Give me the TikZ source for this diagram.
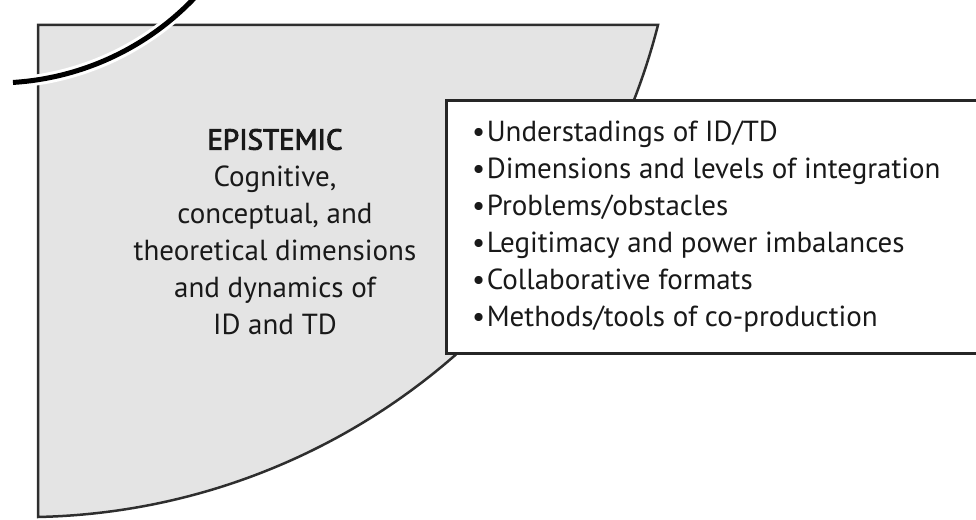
\documentclass[tikz,border=0pt]{standalone}
\usepackage{fontspec}
\setmainfont{PT Sans}
\usepackage{xcolor}
\definecolor{epigray}{HTML}{E4E4E4}
\definecolor{edgegray}{HTML}{2E2E2E}

\begin{document}
\begin{tikzpicture}[x=1pt,y=1pt,
    every node/.style={font=\fontsize{29}{37}\selectfont, inner sep=0pt, text=black!90},
    segment/.style={fill=epigray, draw=edgegray, line width=2.5pt},
    listbox/.style={fill=white, draw=black!85, line width=3pt, anchor=south west,
                    minimum width=560pt, minimum height=253pt},
    listitem/.style={anchor=base west}]
    \useasboundingbox (0,0) rectangle (976,519);
    \clip (0,0) rectangle (976,519);
    % grauer Sektor
    \draw[segment] (38,2) -- (38,494) -- (658,494)
        arc[start angle=-14.33, end angle=-88.77, radius=654] -- cycle;
    % Bogen oben links, mit weissem Rand
    \draw[white, line width=11pt] (-4,710) ++(-86.45:274) arc[start angle=-86.45, end angle=-40, radius=274];
    \draw[black, line width=5pt] (-4,710) ++(-86.45:274) arc[start angle=-86.45, end angle=-40, radius=274];
    % Text im Sektor
    \node[align=center] (epistemic) at (275,287)
        {{\addfontfeature{FakeBold=3}EPISTEMIC}\\Cognitive,\\conceptual, and\\theoretical dimensions\\and dynamics of\\ID and TD};
    % Kasten mit Liste
    \node[listbox] (box) at (445,164) {};
    \foreach \txt [count=\i] in {Understadings of ID/TD, Dimensions and levels of integration,
        Problems/obstacles, Legitimacy and power imbalances, Collaborative formats,
        Methods/tools of co-production}
        \node[listitem] (item\i) at ({472},{414.3-37*\i}) {•\hspace{1.5pt}\txt};
\end{tikzpicture}
\end{document}
